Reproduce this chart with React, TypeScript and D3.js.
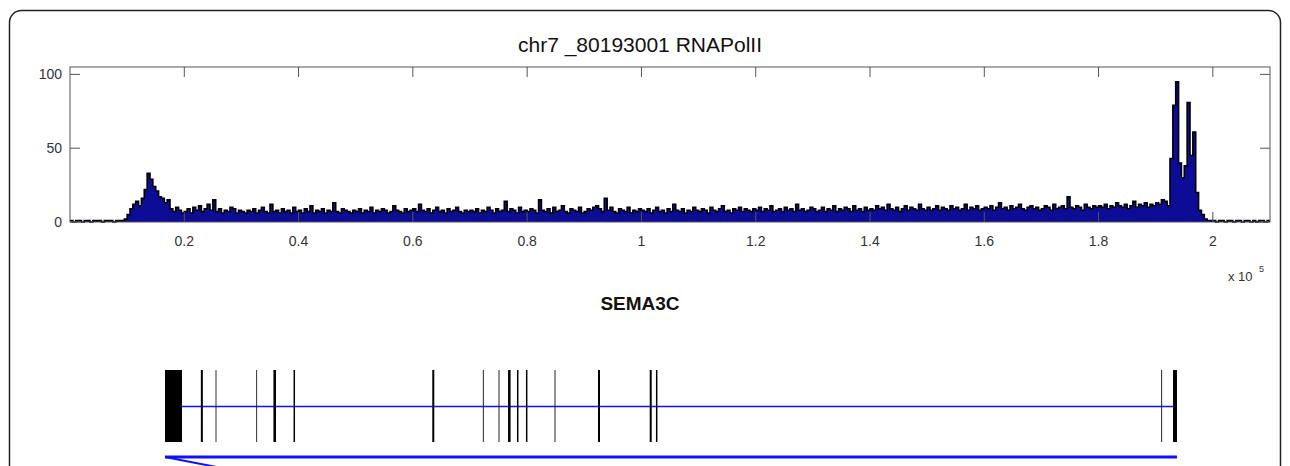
import React from "react";
import * as d3 from "d3";

// RNAPolII read density, 500 bp bins from 0 to 210000 (one row = 10 kb)
const binSize = 500;
const polII = [
  1, 0, 1, 1, 0, 1, 1, 0, 1, 1, 1, 0, 1, 1, 1, 0, 1, 1, 1, 2,
  5, 9, 12, 14, 11, 16, 22, 33, 29, 24, 21, 17, 16, 13, 15, 9, 7, 10, 8, 6,
  7, 9, 6, 10, 8, 11, 7, 9, 12, 8, 15, 7, 9, 6, 8, 7, 10, 9, 6, 8,
  7, 6, 8, 7, 9, 6, 8, 10, 7, 6, 12, 7, 8, 6, 9, 7, 8, 6, 10, 7,
  8, 6, 9, 7, 11, 6, 8, 7, 9, 6, 8, 7, 13, 7, 6, 9, 8, 7, 6, 8,
  7, 9, 6, 8, 7, 10, 6, 8, 7, 9, 8, 6, 7, 11, 8, 7, 6, 9, 7, 8,
  9, 7, 12, 8, 7, 9, 6, 8, 10, 7, 8, 6, 9, 7, 8, 10, 7, 6, 8, 7,
  8, 7, 9, 6, 8, 7, 10, 8, 6, 9, 7, 8, 14, 7, 9, 8, 6, 10, 7, 8,
  7, 9, 8, 6, 15, 8, 7, 9, 6, 10, 7, 8, 11, 7, 6, 9, 8, 7, 10, 6,
  7, 9, 8, 10, 11, 9, 7, 16, 8, 10, 7, 6, 9, 8, 7, 10, 6, 8, 7, 9,
  8, 7, 9, 6, 8, 10, 7, 8, 6, 9, 7, 12, 8, 7, 9, 6, 8, 7, 10, 8,
  7, 9, 8, 6, 10, 8, 7, 9, 11, 7, 8, 6, 9, 8, 10, 7, 9, 8, 7, 9,
  8, 10, 7, 9, 8, 11, 7, 8, 9, 7, 10, 8, 9, 7, 12, 8, 9, 7, 8, 10,
  9, 7, 8, 10, 7, 9, 8, 11, 7, 9, 8, 10, 9, 7, 11, 8, 9, 7, 10, 8,
  9, 8, 11, 9, 10, 8, 12, 9, 8, 10, 7, 9, 11, 8, 10, 9, 8, 12, 9, 8,
  10, 8, 9, 11, 8, 10, 9, 8, 11, 9, 10, 8, 9, 12, 8, 10, 9, 11, 8, 9,
  10, 9, 11, 8, 10, 13, 9, 10, 8, 11, 9, 10, 12, 9, 8, 10, 11, 9, 10, 8,
  9, 11, 10, 8, 12, 9, 10, 11, 9, 17, 10, 9, 11, 10, 8, 12, 10, 9, 11, 10,
  11, 10, 12, 9, 11, 10, 13, 11, 10, 12, 9, 11, 14, 10, 12, 11, 13, 10, 12, 11,
  13, 12, 15, 14, 11, 43, 79, 95, 40, 30, 38, 81, 45, 61, 20, 8, 5, 2, 1, 1,
  1, 0, 1, 1, 0, 1, 1, 0, 1, 1, 0, 1, 1, 0, 1, 0, 1, 1, 0, 1,
];

const xTicks = [20000, 40000, 60000, 80000, 100000, 120000, 140000, 160000, 180000, 200000];
const xTickLabels = ["0.2", "0.4", "0.6", "0.8", "1", "1.2", "1.4", "1.6", "1.8", "2"];
const yTicks = [0, 50, 100];

// SEMA3C gene model, bp offsets in the same window
const geneName = "SEMA3C";
const geneStart = 16625;
const geneEnd = 193720;
const exonStarts = [16625, 22900, 25480, 32600, 35600, 39120, 63400, 72250, 75000, 76660, 78220, 79790, 84800, 92400, 101450, 102540, 190970, 193030];
const exonEnds = [19600, 23250, 25620, 32740, 36050, 39380, 63750, 72400, 75150, 77100, 78480, 80050, 84950, 92750, 101800, 102800, 191120, 193720];

const W = 1290;
const H = 466;
const font = "'Liberation Sans', Arial, sans-serif";

export default function App() {
  const x = d3.scaleLinear().domain([0, 210000]).range([70, 1270]);
  const y = d3.scaleLinear().domain([0, 105]).range([222, 67]);
  const [x0, x1] = x.range();
  const [yb, yt] = y.range();

  const pts = polII.map((v, i) => [i * binSize, v] as [number, number]);
  pts.push([polII.length * binSize, polII[polII.length - 1]]);

  const area = d3
    .area<[number, number]>()
    .x((d) => x(d[0]))
    .y0(yb)
    .y1((d) => y(d[1]))
    .curve(d3.curveStepAfter);
  const line = d3
    .line<[number, number]>()
    .x((d) => x(d[0]))
    .y((d) => y(d[1]))
    .curve(d3.curveStepAfter);

  const tickLen = 10;
  const axisColor = "#555";
  const exonTop = 370;
  const exonBottom = 442;
  const intronY = 406.5;
  const strandY = 457;

  return (
    <svg width={W} height={H} style={{ position: "absolute", left: 0, top: 0, background: "#fff" }}>
      <rect x={9.5} y={10.5} width={1271} height={520} rx={12} fill="#fff" stroke="#222" strokeWidth={1.5} />

      <text x={640} y={52} textAnchor="middle" fontFamily={font} fontSize={21} fill="#111">
        chr7 _80193001 RNAPolII
      </text>

      {/* signal */}
      <path d={area(pts) ?? ""} fill="#0c0c96" />
      <path d={line(pts) ?? ""} fill="none" stroke="#000" strokeWidth={1.6} />

      {/* axes box */}
      <rect x={x0} y={yt} width={x1 - x0} height={yb - yt} fill="none" stroke={axisColor} strokeWidth={1} />
      {xTicks.map((t, i) => (
        <g key={t}>
          <line x1={x(t)} x2={x(t)} y1={yb} y2={yb - tickLen} stroke={axisColor} />
          <line x1={x(t)} x2={x(t)} y1={yt} y2={yt + tickLen} stroke={axisColor} />
          <text x={x(t)} y={246} textAnchor="middle" fontFamily={font} fontSize={14} fill="#333">
            {xTickLabels[i]}
          </text>
        </g>
      ))}
      {yTicks.map((t) => (
        <g key={t}>
          <line x1={x0} x2={x0 + tickLen} y1={y(t)} y2={y(t)} stroke={axisColor} />
          <line x1={x1} x2={x1 - tickLen} y1={y(t)} y2={y(t)} stroke={axisColor} />
          <text x={62} y={y(t) + 5} textAnchor="end" fontFamily={font} fontSize={14} fill="#333">
            {t}
          </text>
        </g>
      ))}
      <text x={1228} y={281} fontFamily={font} fontSize={13} fill="#333">
        x 10
      </text>
      <text x={1259} y={272} fontFamily={font} fontSize={9} fill="#333">
        5
      </text>

      {/* gene model */}
      <text x={640} y={310} textAnchor="middle" fontFamily={font} fontSize={19} fontWeight="bold" fill="#111">
        {geneName}
      </text>
      <line x1={x(exonEnds[0])} x2={x(exonStarts[exonStarts.length - 1])} y1={intronY} y2={intronY} stroke="#1010ff" strokeWidth={1.5} />
      {exonStarts.map((s, i) => (
        <rect key={i} x={x(s)} y={exonTop} width={x(exonEnds[i]) - x(s)} height={exonBottom - exonTop} fill="#000" />
      ))}
      <line x1={x(geneStart)} x2={x(geneEnd)} y1={strandY} y2={strandY} stroke="#1010ff" strokeWidth={3} />
      <line x1={x(geneStart)} x2={x(geneStart + 9000)} y1={strandY} y2={strandY + 10} stroke="#1010ff" strokeWidth={2} />
    </svg>
  );
}
